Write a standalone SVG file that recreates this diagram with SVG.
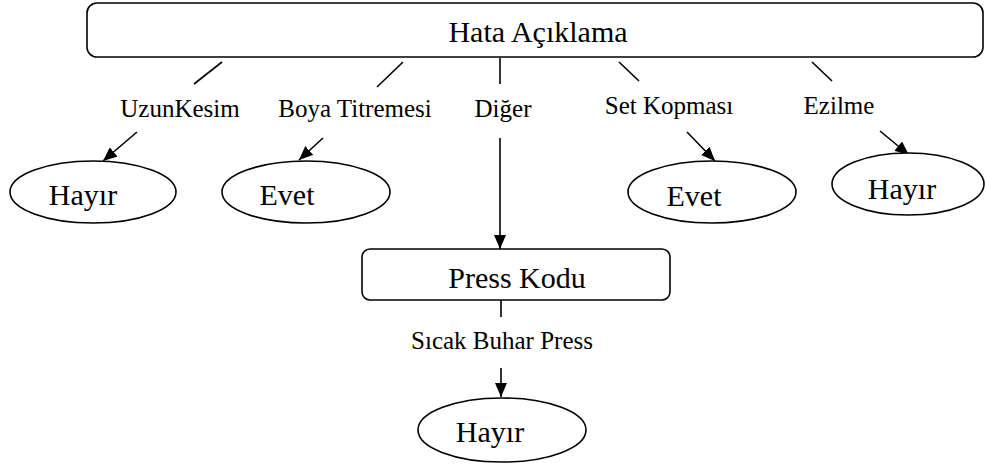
<svg xmlns="http://www.w3.org/2000/svg" width="986" height="465" viewBox="0 0 986 465">
<style>
.box{fill:#fff;stroke:#000;stroke-width:1.6}
.ell{fill:#fff;stroke:#000;stroke-width:1.6}
.t{font-family:"Liberation Serif","Times New Roman",serif;fill:#000}
.big{font-size:30px}
.lbl{font-size:25px;text-anchor:middle}
.c{text-anchor:middle}
.ln{stroke:#000;stroke-width:1.6;fill:none}
.ar{stroke:#000;stroke-width:1.6;fill:none;marker-end:url(#ah)}
</style>
<defs>
<marker id="ah" markerUnits="userSpaceOnUse" viewBox="0 0 14 12" refX="14" refY="6" markerWidth="14" markerHeight="12" orient="auto">
<path d="M0,0 L14,6 L0,12 z" fill="#000"/>
</marker>
</defs>
<g id="connectors">
<line class="ln" x1="222" y1="62" x2="194" y2="84"/>
<line class="ar" x1="137" y1="132" x2="103" y2="161"/>
<line class="ln" x1="403" y1="62" x2="377" y2="87"/>
<line class="ar" x1="323" y1="138" x2="299" y2="160"/>
<line class="ln" x1="500" y1="58" x2="500" y2="84"/>
<line class="ar" x1="500" y1="138" x2="500" y2="249"/>
<line class="ln" x1="619" y1="62" x2="639" y2="81"/>
<line class="ar" x1="687" y1="132" x2="715" y2="161"/>
<line class="ln" x1="812" y1="62" x2="832" y2="81"/>
<line class="ar" x1="880" y1="131" x2="909" y2="155"/>
<line class="ln" x1="501" y1="300" x2="501" y2="317"/>
<line class="ar" x1="501" y1="368" x2="501" y2="397"/>
<text class="t lbl" x="180" y="117">UzunKesim</text>
<text class="t lbl" x="355" y="117">Boya Titremesi</text>
<text class="t lbl" x="503" y="117">Diğer</text>
<text class="t lbl" x="669" y="114">Set Kopması</text>
<text class="t lbl" x="839" y="114">Ezilme</text>
<text class="t lbl" x="502" y="349">Sıcak Buhar Press</text>
</g>
<g id="hata">
<rect class="box" x="87" y="3" width="896" height="54" rx="10"/>
<text class="t big c" x="538" y="42">Hata Açıklama</text>
</g>
<g id="hayir1">
<ellipse class="ell" cx="93" cy="192" rx="83" ry="31"/>
<text class="t big c" x="83" y="205">Hayır</text>
</g>
<g id="evet1">
<ellipse class="ell" cx="306" cy="192" rx="84" ry="31"/>
<text class="t big c" x="287" y="205">Evet</text>
</g>
<g id="evet2">
<ellipse class="ell" cx="712" cy="192" rx="84" ry="31"/>
<text class="t big c" x="694" y="206">Evet</text>
</g>
<g id="hayir2">
<ellipse class="ell" cx="908" cy="184" rx="76" ry="31"/>
<text class="t big c" x="902" y="199">Hayır</text>
</g>
<g id="press">
<rect class="box" x="362" y="249" width="308" height="51" rx="8"/>
<text class="t big c" x="517" y="288">Press Kodu</text>
</g>
<g id="hayir3">
<ellipse class="ell" cx="502" cy="430" rx="84" ry="32"/>
<text class="t big c" x="490" y="442">Hayır</text>
</g>
</svg>
